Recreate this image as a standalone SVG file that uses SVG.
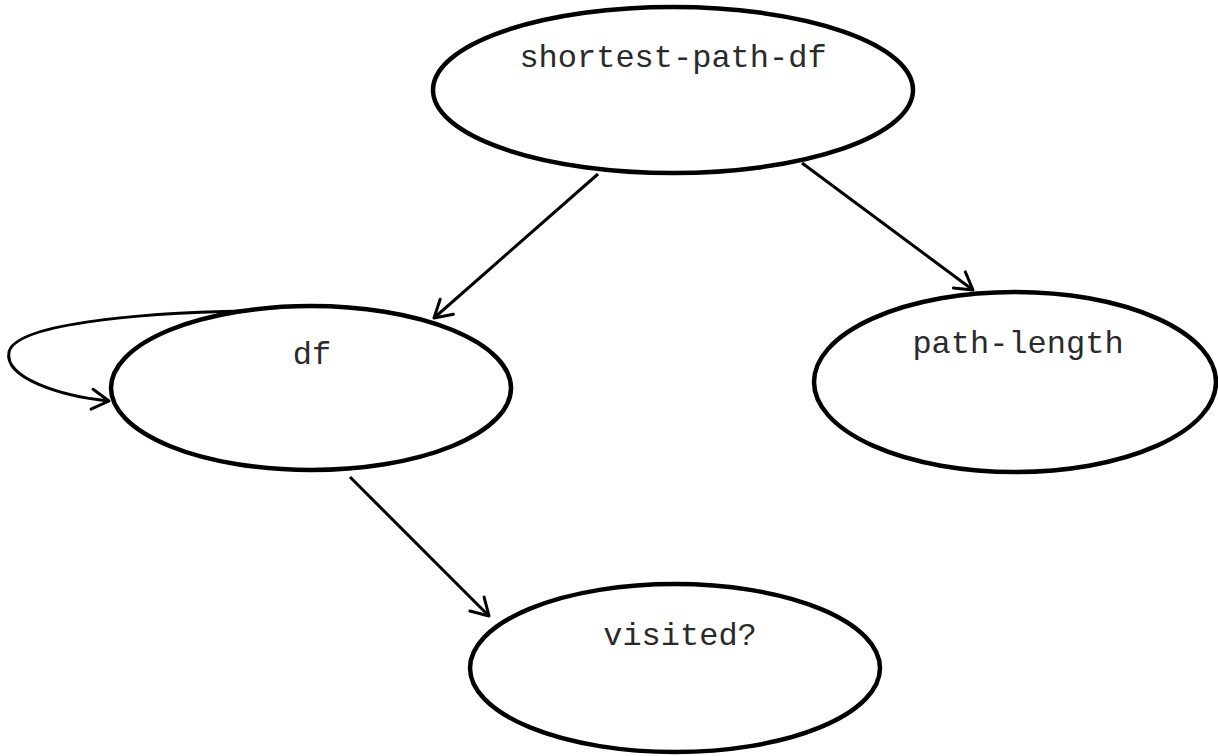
<svg xmlns="http://www.w3.org/2000/svg" width="1218" height="756" viewBox="0 0 1218 756">
  <style>
    .node ellipse { fill: #ffffff; stroke: #000000; stroke-width: 4.5; }
    .node text { font-family: "Liberation Mono", "Courier New", monospace; font-size: 32px; fill: #2a2a2a; text-anchor: middle; }
    .edge { fill: none; stroke: #000000; stroke-width: 3; marker-end: url(#arrow); }
  </style>
  <defs>
    <marker id="arrow" markerUnits="userSpaceOnUse" viewBox="-2 -2 22 24" refX="17" refY="10" markerWidth="22" markerHeight="24" orient="auto">
      <path d="M0,0 L17,10 L0,20" fill="none" stroke="#000000" stroke-width="3" stroke-linecap="round" stroke-linejoin="round"/>
    </marker>
  </defs>
  <rect width="1218" height="756" fill="#ffffff"/>

  <g id="node-shortest-path-df" class="node">
    <ellipse cx="673" cy="90" rx="240" ry="83"/>
    <text x="673" y="67">shortest-path-df</text>
  </g>
  <g id="node-path-length" class="node">
    <ellipse cx="1015" cy="382" rx="201" ry="90"/>
    <text x="1018" y="353">path-length</text>
  </g>
  <g id="node-df" class="node">
    <ellipse cx="311" cy="388" rx="200" ry="82"/>
    <text x="312" y="364">df</text>
  </g>
  <g id="node-visited" class="node">
    <ellipse cx="675" cy="668" rx="205" ry="84"/>
    <text x="680" y="645">visited?</text>
  </g>

  <g id="connectors">
    <path class="edge" d="M598,174 L434,318"/>
    <path class="edge" d="M802,163 L973,290"/>
    <path class="edge" d="M350,477 L489,616"/>
    <path class="edge" d="M247,311 C130,313 15,325 9,352 C4,378 60,396 109,401"/>
  </g>
</svg>
